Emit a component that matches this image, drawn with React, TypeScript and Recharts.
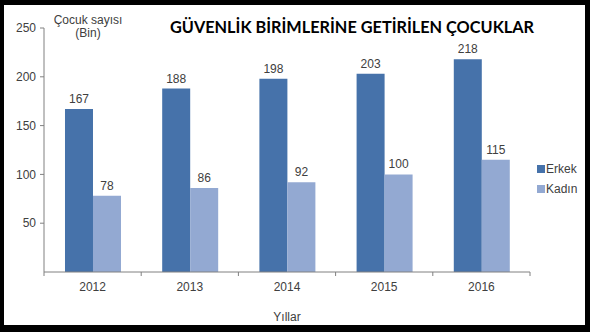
import React from "react";
import {
  BarChart,
  Bar,
  XAxis,
  YAxis,
  Legend,
  LabelList,
} from "recharts";

const years = ["2012", "2013", "2014", "2015", "2016"];
const erkek = [167, 188, 198, 203, 218];
const kadin = [78, 86, 92, 100, 115];
const yTicks = [50, 100, 150, 200, 250];

const FONT = "'Liberation Sans', Arial, sans-serif";
const TEXT = "#404040";
const AXIS = "#808080";
const C_ERKEK = "#4672AA";
const C_KADIN = "#93A9D2";

function XTick(props: any) {
  const { x, y, payload, index } = props;
  const half = payload?.offset ?? 0;
  const last = index === years.length - 1;
  return (
    <g>
      <line x1={x - half} y1={y - 8} x2={x - half} y2={y - 4} stroke={AXIS} />
      {last && (
        <line x1={x + half} y1={y - 8} x2={x + half} y2={y - 4} stroke={AXIS} />
      )}
      <text
        x={x}
        y={y + 11}
        textAnchor="middle"
        fontSize={12}
        fontFamily={FONT}
        fill={TEXT}
      >
        {payload.value}
      </text>
    </g>
  );
}

function LegendBox(props: any) {
  const items = props.payload ?? [];
  return (
    <div style={{ fontFamily: FONT, fontSize: 12, color: TEXT }}>
      {items.map((it: any) => (
        <div
          key={it.value}
          style={{ display: "flex", alignItems: "center", height: 20 }}
        >
          <span
            style={{
              display: "inline-block",
              width: 8,
              height: 8,
              background: it.color,
              marginRight: 1,
            }}
          />
          {it.value}
        </div>
      ))}
    </div>
  );
}

export default function App() {
  const rows = years.map((y, i) => ({
    year: y,
    Erkek: erkek[i],
    Kadın: kadin[i],
  }));

  return (
    <div
      style={{
        position: "absolute",
        left: 0,
        top: 0,
        width: 590,
        height: 332,
        background: "#000",
      }}
    >
      <div
        style={{
          position: "absolute",
          left: 4,
          top: 5,
          width: 581,
          height: 320,
          background: "#fff",
        }}
      />
      <div
        style={{
          position: "absolute",
          left: 160,
          top: 17,
          width: 384,
          textAlign: "center",
          fontFamily: "Lato, 'Liberation Sans', sans-serif",
          fontWeight: 700,
          fontSize: 16.3,
          color: "#000",
          whiteSpace: "nowrap",
        }}
      >
        GÜVENLİK BİRİMLERİNE GETİRİLEN ÇOCUKLAR
      </div>
      <div
        style={{
          position: "absolute",
          left: 50,
          top: 14,
          width: 76,
          textAlign: "center",
          fontFamily: FONT,
          fontSize: 12,
          lineHeight: "13px",
          color: TEXT,
        }}
      >
        Çocuk sayısı
        <br />
        (Bin)
      </div>
      <div style={{ position: "absolute", left: 0, top: 0 }}>
        <BarChart
          width={590}
          height={332}
          data={rows}
          margin={{ top: 28, right: 60, bottom: 8, left: 4 }}
          barGap={0}
          barCategoryGap="21.6%"
        >
          <XAxis
            dataKey="year"
            height={52}
            stroke={AXIS}
            tickLine={false}
            tick={<XTick />}
            label={{
              value: "Yıllar",
              position: "insideBottom",
              offset: 3,
              fontSize: 12,
              fontFamily: FONT,
              fill: TEXT,
            }}
          />
          <YAxis
            width={40}
            domain={[0, 250]}
            ticks={yTicks}
            stroke={AXIS}
            tickSize={4}
            tickMargin={4}
            tick={{ fontSize: 12, fontFamily: FONT, fill: TEXT }}
          />
          <Legend
            layout="vertical"
            align="center"
            verticalAlign="middle"
            content={<LegendBox />}
            wrapperStyle={{ left: 537, top: 159, width: 60 }}
          />
          <Bar dataKey="Erkek" fill={C_ERKEK} isAnimationActive={false}>
            <LabelList
              dataKey="Erkek"
              position="top"
              offset={6}
              fontSize={12}
              fontFamily={FONT}
              fill={TEXT}
            />
          </Bar>
          <Bar dataKey="Kadın" fill={C_KADIN} isAnimationActive={false}>
            <LabelList
              dataKey="Kadın"
              position="top"
              offset={6}
              fontSize={12}
              fontFamily={FONT}
              fill={TEXT}
            />
          </Bar>
        </BarChart>
      </div>
    </div>
  );
}
